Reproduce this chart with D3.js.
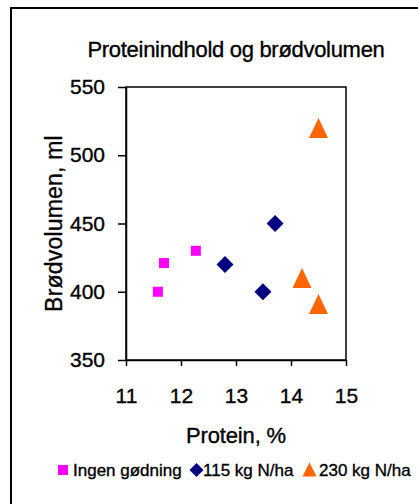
<!DOCTYPE html>
<html>
<head>
<meta charset="utf-8">
<script src="https://cdn.jsdelivr.net/npm/d3@7"></script>
<style>
  html, body { margin: 0; padding: 0; background: #fff; }
  svg { display: block; font-family: "Liberation Sans", Arial, sans-serif; }
  text { fill: #000; stroke: #000; stroke-width: 0.35px; }
</style>
</head>
<body>
<svg id="chart" width="418" height="504"></svg>
<script>
const title = "Proteinindhold og brødvolumen";
const xLabel = "Protein, %";
const yLabel = "Brødvolumen, ml";
const seriesNames = ["Ingen gødning", "115 kg N/ha", "230 kg N/ha"];
const seriesColors = ["#FF00FF", "#000080", "#FF6600"];
const seriesShapes = ["square", "diamond", "triangle"];
const ingenX = [11.58, 11.69, 12.27];
const ingenY = [400, 421, 430];
const n115X = [12.8, 13.49, 13.71];
const n115Y = [420, 400, 450];
const n230X = [14.5, 14.2, 14.5];
const n230Y = [520, 410, 391];
const xTicks = [11, 12, 13, 14, 15];
const yTicks = [350, 400, 450, 500, 550];

const series = [
  {x: ingenX, y: ingenY},
  {x: n115X, y: n115Y},
  {x: n230X, y: n230Y}
];

const svg = d3.select("#chart");
const pLeft = 126, pRight = 346, pTop = 87, pBottom = 360;

// outer chart border (left & top visible; clipped at right/bottom)
svg.append("rect").attr("x", 11).attr("y", 8).attr("width", 420).attr("height", 520)
  .attr("fill", "none").attr("stroke", "#000").attr("stroke-width", 2);

const x = d3.scaleLinear().domain([11, 15]).range([pLeft, pRight]);
const y = d3.scaleLinear().domain([350, 550]).range([pBottom, pTop]);

// plot area box
svg.append("rect").attr("x", pLeft).attr("y", pTop).attr("width", pRight - pLeft).attr("height", pBottom - pTop)
  .attr("fill", "none").attr("stroke", "#000").attr("stroke-width", 1.5);

const xAxis = svg.append("g").attr("transform", `translate(0,${pBottom})`)
  .call(d3.axisBottom(x).tickValues(xTicks).tickSize(6).tickSizeOuter(0).tickPadding(22).tickFormat(d3.format("d")));
const yAxis = svg.append("g").attr("transform", `translate(${pLeft},0)`)
  .call(d3.axisLeft(y).tickValues(yTicks).tickSize(8).tickSizeOuter(0).tickPadding(13).tickFormat(d3.format("d")));
[xAxis, yAxis].forEach(a => {
  a.select(".domain").attr("stroke", "#000").attr("stroke-width", 1.5);
  a.selectAll(".tick line").attr("stroke", "#000").attr("stroke-width", 1.5);
  a.selectAll(".tick text").attr("font-size", 21).attr("fill", "#000")
    .attr("font-family", "Liberation Sans, Arial, sans-serif");
});

function shapePath(shape, cx, cy) {
  if (shape === "square") { const h = 5; return `M${cx-h},${cy-h}H${cx+h}V${cy+h}H${cx-h}Z`; }
  if (shape === "diamond") { const h = 8.5; return `M${cx},${cy-h}L${cx+h},${cy}L${cx},${cy+h}L${cx-h},${cy}Z`; }
  const w = 9.5, hh = 10; return `M${cx},${cy-hh}L${cx+w},${cy+hh}L${cx-w},${cy+hh}Z`;
}

series.forEach((s, i) => {
  svg.append("g").selectAll("path").data(s.x.map((v, j) => [v, s.y[j]])).join("path")
    .attr("d", d => shapePath(seriesShapes[i], x(d[0]), y(d[1])))
    .attr("fill", seriesColors[i]);
});

svg.append("text").attr("x", (pLeft + pRight) / 2).attr("y", 57).attr("text-anchor", "middle")
  .attr("font-size", 22).attr("letter-spacing", -0.3).text(title);
svg.append("text").attr("x", (pLeft + pRight) / 2).attr("y", 443).attr("text-anchor", "middle")
  .attr("font-size", 22).attr("letter-spacing", -0.15).text(xLabel);
svg.append("text").attr("transform", `translate(62,${(pTop + pBottom) / 2}) rotate(-90)`)
  .attr("text-anchor", "middle").attr("font-size", 23).attr("letter-spacing", 0.2).text(yLabel);

// legend
const legendItems = [
  {sx: 63, tx: 73},
  {sx: 196.5, tx: 203},
  {sx: 309.5, tx: 319}
];
const ly = 470;
legendItems.forEach((it, i) => {
  let d;
  if (seriesShapes[i] === "square") d = `M${it.sx-5},${ly-5}h10v10h-10Z`;
  else if (seriesShapes[i] === "diamond") d = `M${it.sx},${ly-7}l7,7l-7,7l-7,-7Z`;
  else d = `M${it.sx},${ly-7.5}l7,14h-14Z`;
  svg.append("path").attr("d", d).attr("fill", seriesColors[i]);
  svg.append("text").attr("x", it.tx).attr("y", ly + 6).attr("font-size", 17)
    .text(seriesNames[i]);
});
</script>
</body>
</html>
